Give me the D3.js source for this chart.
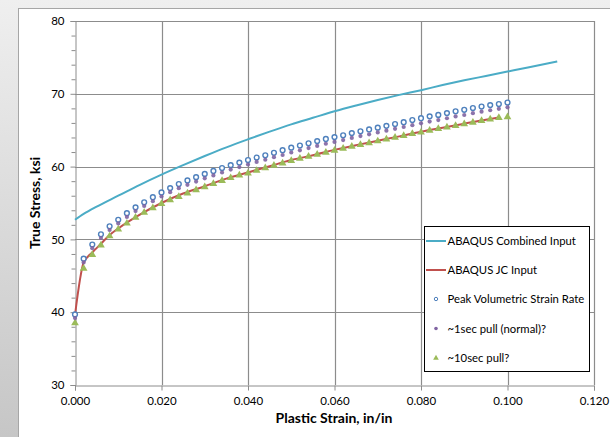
<!DOCTYPE html>
<html><head><meta charset="utf-8">
<script src="https://cdn.jsdelivr.net/npm/d3@7/dist/d3.min.js"></script>
<style>body{margin:0;background:#fff}svg{display:block}text{font-family:Lato,"Open Sans","Liberation Sans",sans-serif}</style>
</head><body><svg id="c" width="610" height="437"></svg>
<script>
const strain = [0,0.002,0.004,0.006,0.008,0.010,0.012,0.014,0.016,0.018,0.020,0.022,0.024,0.026,0.028,0.030,0.032,0.034,0.036,0.038,0.040,0.042,0.044,0.046,0.048,0.050,0.052,0.054,0.056,0.058,0.060,0.062,0.064,0.066,0.068,0.070,0.072,0.074,0.076,0.078,0.080,0.082,0.084,0.086,0.088,0.090,0.092,0.094,0.096,0.098,0.100];
const peakRate = [39.7,47.35,49.3,50.7,51.8,52.7,53.6,54.4,55.1,55.8,56.45,57.05,57.6,58.1,58.55,59.0,59.4,59.8,60.2,60.55,60.9,61.25,61.55,61.9,62.25,62.6,62.9,63.2,63.5,63.8,64.05,64.3,64.6,64.85,65.1,65.35,65.6,65.85,66.1,66.4,66.65,66.9,67.1,67.35,67.6,67.8,68.05,68.25,68.45,68.6,68.8];
const pull1sec = [39.3,46.95,48.9,50.3,51.4,52.3,53.2,54.0,54.7,55.35,56.0,56.6,57.15,57.6,58.05,58.5,58.9,59.3,59.7,60.05,60.4,60.75,61.05,61.4,61.7,62.05,62.35,62.65,62.95,63.25,63.5,63.75,64.05,64.3,64.55,64.8,65.05,65.3,65.55,65.8,66.05,66.3,66.5,66.75,67.0,67.2,67.45,67.65,67.85,68.05,68.25];
const pull10sec = [38.5,46.0,47.9,49.2,50.45,51.4,52.2,53.0,53.7,54.3,54.9,55.4,55.85,56.35,56.8,57.2,57.65,58.05,58.45,58.8,59.1,59.45,59.8,60.15,60.45,60.8,61.1,61.4,61.65,61.95,62.2,62.5,62.75,63.0,63.25,63.5,63.75,64.0,64.25,64.5,64.7,64.95,65.2,65.4,65.6,65.85,66.05,66.3,66.5,66.7,66.8];
const jcStrain = [0,0.002,0.004,0.006,0.008,0.010,0.015,0.020,0.025,0.030,0.035,0.040,0.045,0.050,0.055,0.060,0.065,0.070,0.075,0.080,0.085,0.090,0.095,0.098];
const jcInput = [39.6,46.8,48.2,49.4,50.6,51.5,53.4,55.0,56.3,57.3,58.35,59.2,60.05,60.9,61.55,62.3,62.95,63.55,64.15,64.8,65.35,65.9,66.45,66.75];
const combStrain = [0,0.002,0.005,0.010,0.015,0.020,0.025,0.030,0.035,0.040,0.045,0.050,0.055,0.060,0.065,0.070,0.075,0.080,0.085,0.090,0.095,0.100,0.105,0.1115];
const combinedInput = [52.7,53.5,54.5,56.0,57.5,58.9,60.2,61.45,62.65,63.75,64.8,65.8,66.7,67.6,68.4,69.15,69.85,70.5,71.2,71.85,72.45,73.05,73.65,74.45];
const xTicks = [0,0.02,0.04,0.06,0.08,0.10,0.12];
const yTicks = [30,40,50,60,70,80];
const legendLabels = ["ABAQUS Combined Input","ABAQUS JC Input","Peak Volumetric Strain Rate","~1sec pull (normal)?","~10sec pull?"];

const svg = d3.select("#c");
const defs = svg.append("defs");
const g1 = defs.append("linearGradient").attr("id","bg").attr("x1",0).attr("y1",0).attr("x2",0).attr("y2",1);
g1.append("stop").attr("offset","0%").attr("stop-color","#efefef");
g1.append("stop").attr("offset","100%").attr("stop-color","#c6c6c6");
svg.append("rect").attr("width",610).attr("height",437).attr("fill","url(#bg)");
svg.append("rect").attr("x",18.5).attr("y",8.5).attr("width",600).attr("height",440).attr("fill","#fff").attr("stroke","#a6a6a6");

const x = d3.scaleLinear().domain([0,0.12]).range([75,594]);
const y = d3.scaleLinear().domain([30,80]).range([385,21]);

const grid = svg.append("g");
xTicks.slice(1).forEach(t=>grid.append("line").attr("x1",Math.round(x(t))+0.5).attr("x2",Math.round(x(t))+0.5).attr("y1",y(80)).attr("y2",y(30)).attr("stroke","#8c8c8c").attr("stroke-width",1.2));
yTicks.slice(1).forEach(t=>grid.append("line").attr("x1",x(0)).attr("x2",x(0.12)).attr("y1",Math.round(y(t))+0.5).attr("y2",Math.round(y(t))+0.5).attr("stroke","#8c8c8c").attr("stroke-width",1.2));

const yAxis = d3.axisLeft(y).tickValues(yTicks).tickSize(5).tickPadding(6).tickFormat(d3.format("d"));
const yg = svg.append("g").attr("transform",`translate(${Math.round(x(0))+0.5},0)`).call(yAxis);
yg.selectAll("line,path").attr("stroke","#8c8c8c");
yg.selectAll("text").attr("font-size",11.5).attr("fill","#000");
const yMinor = svg.append("g").attr("transform",`translate(${Math.round(x(0))+0.5},0)`).call(d3.axisLeft(y).tickValues(d3.range(30,81,2).filter(v=>v%10)).tickSize(4).tickFormat(""));
yMinor.select("path").remove();
yMinor.selectAll("line").attr("stroke","#8c8c8c");

const xAxis = d3.axisBottom(x).tickValues(xTicks).tickSize(5).tickPadding(6).tickFormat(d3.format(".3f"));
const xg = svg.append("g").attr("transform",`translate(0,${Math.round(y(30))+0.5})`).call(xAxis);
xg.selectAll("line,path").attr("stroke","#8c8c8c");
xg.selectAll("text").attr("font-size",11.5).attr("fill","#000");

svg.append("text").attr("x",334).attr("y",423).attr("text-anchor","middle").attr("font-size",14).attr("font-weight","bold").text("Plastic Strain, in/in");
svg.append("text").attr("transform","translate(40,203) rotate(-90)").attr("text-anchor","middle").attr("font-size",14).attr("font-weight","bold").text("True Stress, ksi");

const line = d3.line().curve(d3.curveMonotoneX).x(d=>x(d[0])).y(d=>y(d[1]));
const cyan="#4bacc6", red="#c0504d", blue="#4f81bd", purple="#8064a2", green="#9bbb59";
svg.append("path").attr("d",line(combStrain.map((s,i)=>[s,combinedInput[i]]))).attr("fill","none").attr("stroke",cyan).attr("stroke-width",2);
svg.append("path").attr("d",line(jcStrain.map((s,i)=>[s,jcInput[i]]))).attr("fill","none").attr("stroke",red).attr("stroke-width",2);

const tri = d3.symbol().type(d3.symbolTriangle).size(26);
const m = svg.append("g");
m.selectAll(".g").data(strain).join("path").attr("d",tri).attr("transform",(d,i)=>`translate(${x(d)},${y(pull10sec[i])})`).attr("fill",green);
m.selectAll(".b").data(strain).join("circle").attr("cx",d=>x(d)).attr("cy",(d,i)=>y(peakRate[i])).attr("r",2.4).attr("fill","#fff").attr("stroke",blue).attr("stroke-width",1.4);
m.selectAll(".p").data(strain).join("circle").attr("cx",d=>x(d)).attr("cy",(d,i)=>y(pull1sec[i])+0.8).attr("r",2.1).attr("fill",purple).attr("opacity",0.9);

const lg = svg.append("g");
lg.append("rect").attr("x",424.5).attr("y",226.5).attr("width",165).attr("height",145).attr("fill","#fff").attr("stroke","#000");
const ly = [241,270,299,328.5,358];
legendLabels.forEach((t,i)=>{
  lg.append("text").attr("x",447.5).attr("y",ly[i]+4).attr("font-size",11.3).attr("fill","#000").text(t);
});
lg.append("line").attr("x1",426).attr("x2",446).attr("y1",ly[0]).attr("y2",ly[0]).attr("stroke",cyan).attr("stroke-width",2);
lg.append("line").attr("x1",426).attr("x2",446).attr("y1",ly[1]).attr("y2",ly[1]).attr("stroke",red).attr("stroke-width",2);
lg.append("circle").attr("cx",436).attr("cy",ly[2]).attr("r",1.7).attr("fill","#fff").attr("stroke",blue).attr("stroke-width",1);
lg.append("circle").attr("cx",436).attr("cy",ly[3]).attr("r",1.8).attr("fill",purple);
lg.append("path").attr("d",d3.symbol().type(d3.symbolTriangle).size(14)).attr("transform",`translate(436,${ly[4]})`).attr("fill",green);
</script></body></html>
